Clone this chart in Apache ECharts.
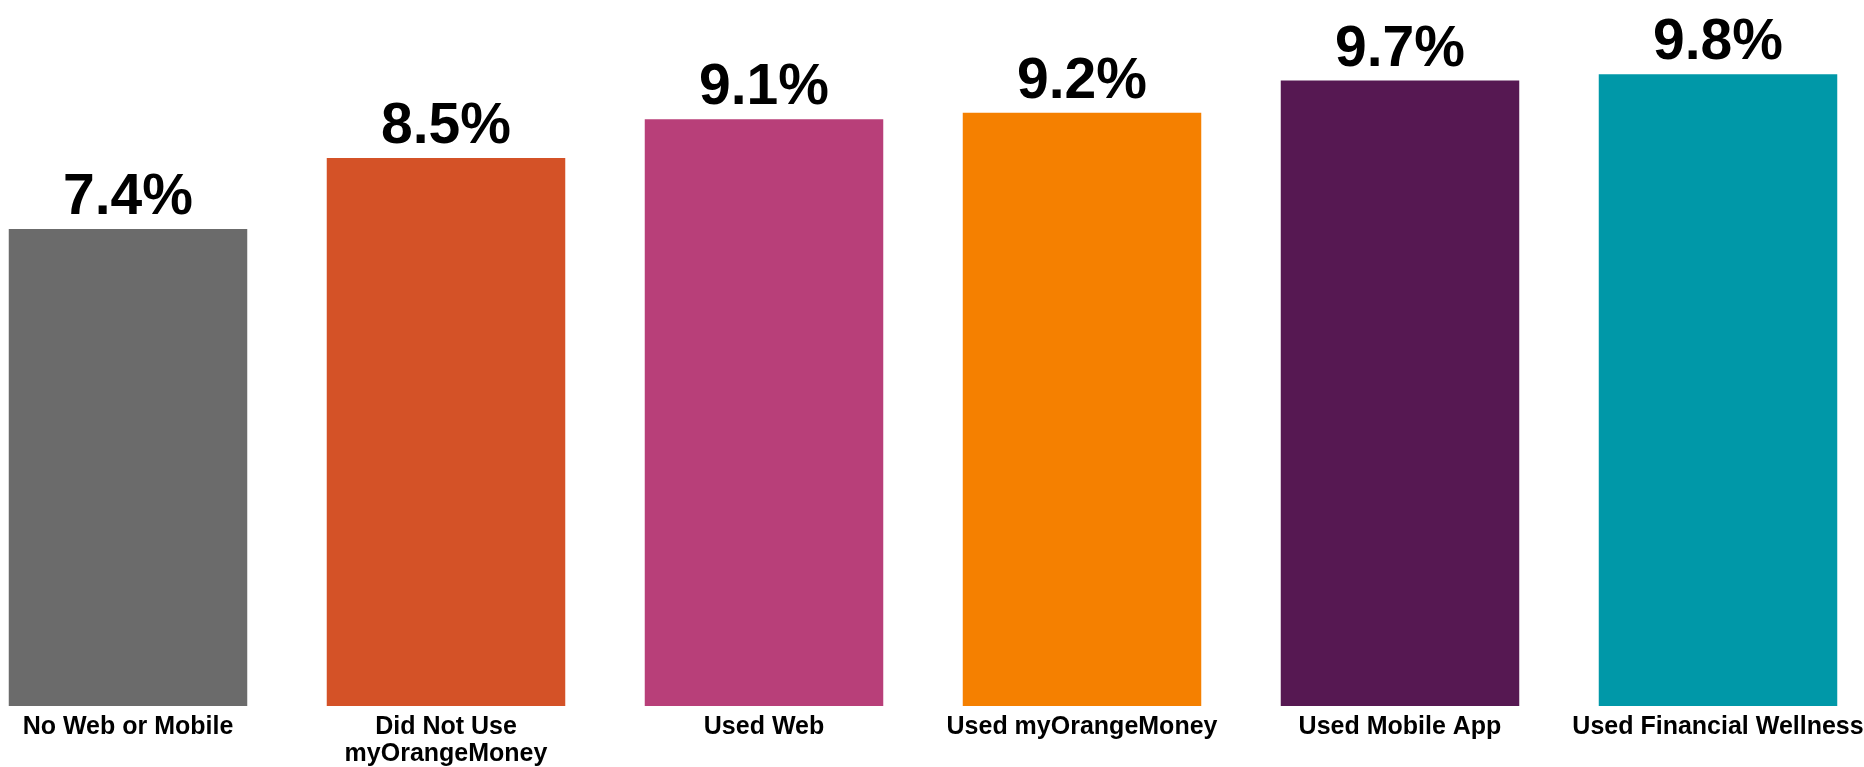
<!DOCTYPE html>
<html>
<head>
<meta charset="utf-8">
<title>Usage groups</title>
<script src="https://cdn.jsdelivr.net/npm/echarts@6/dist/echarts.min.js"></script>
<style>
  html, body { margin: 0; padding: 0; background: #ffffff; }
  #chart { width: 1864px; height: 767px; }
</style>
</head>
<body>
<div id="chart"></div>
<script>
const categories = [
  'No Web or Mobile',
  'Did Not Use\nmyOrangeMoney',
  'Used Web',
  'Used myOrangeMoney',
  'Used Mobile App',
  'Used Financial Wellness'
];
const values = [7.4, 8.5, 9.1, 9.2, 9.7, 9.8];
const barColors = ['#6b6b6b', '#d45227', '#b83f79', '#f58000', '#561852', '#0098a8'];

const chart = echarts.init(document.getElementById('chart'), null, { renderer: 'canvas' });

chart.setOption({
  backgroundColor: '#ffffff',
  animation: false,
  grid: {
    left: -31, right: -13, top: 0, bottom: 61,
    containLabel: false,
    outerBoundsMode: 'none'
  },
  xAxis: {
    type: 'category',
    data: categories,
    axisLine: { show: false },
    axisTick: { show: false },
    axisLabel: {
      interval: 0,
      margin: 8,
      color: '#000000',
      fontFamily: 'Liberation Sans, Arial, sans-serif',
      fontWeight: 'bold',
      fontSize: 25,
      lineHeight: 27
    }
  },
  yAxis: {
    type: 'value',
    min: 0,
    max: 10.95,
    show: false,
    splitLine: { show: false }
  },
  series: [{
    type: 'bar',
    data: values.map((v, i) => ({ value: v, itemStyle: { color: barColors[i] } })),
    barCategoryGap: '25%',
    label: {
      show: true,
      position: 'top',
      distance: 2,
      formatter: p => p.value.toFixed(1) + '%',
      color: '#000000',
      fontFamily: 'Liberation Sans, Arial, sans-serif',
      fontWeight: 'bold',
      fontSize: 57
    }
  }]
});
</script>
</body>
</html>
